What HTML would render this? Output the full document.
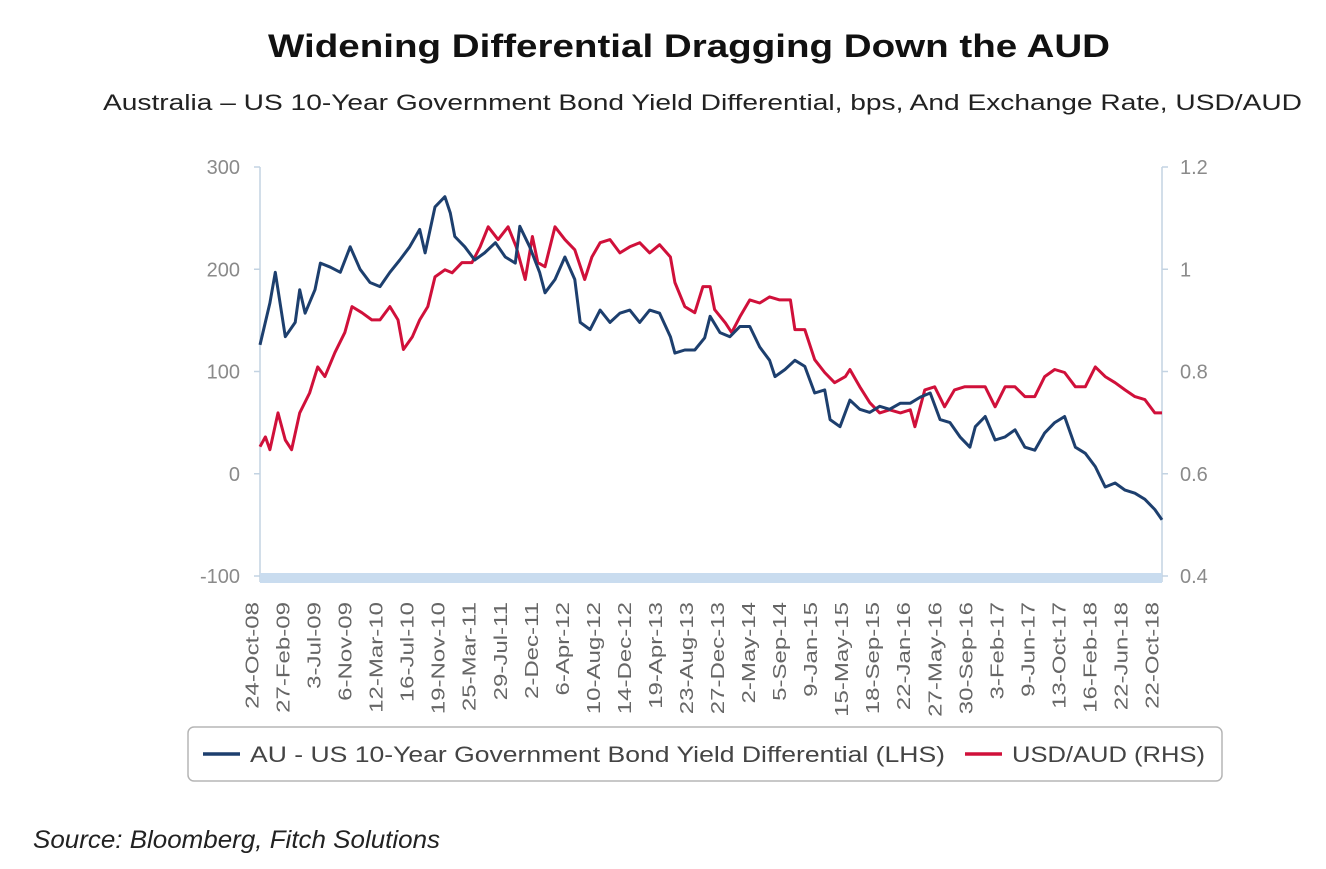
<!DOCTYPE html>
<html><head><meta charset="utf-8"><style>
body{margin:0;background:#fff;width:1326px;height:869px;overflow:hidden;font-family:"Liberation Sans",sans-serif}
</style></head><body>
<svg width="1326" height="869" viewBox="0 0 1326 869" style="position:absolute;left:0;top:0">
<text x="268" y="57" textLength="842" lengthAdjust="spacingAndGlyphs" font-size="32" font-weight="bold" fill="#111">Widening Differential Dragging Down the AUD</text>
<text x="103" y="110" textLength="1199" lengthAdjust="spacingAndGlyphs" font-size="22" fill="#222">Australia – US 10-Year Government Bond Yield Differential, bps, And Exchange Rate, USD/AUD</text>
<g id="axes"></g>
<g id="series"></g>
<rect x="188" y="727" width="1034" height="54" rx="6" fill="#fff" stroke="#b5b5b5" stroke-width="1.5"/>
<line x1="203" y1="754" x2="240" y2="754" stroke="#1d3f6e" stroke-width="3.5"/>
<text x="250" y="762" textLength="695" lengthAdjust="spacingAndGlyphs" font-size="22" fill="#444">AU - US 10-Year Government Bond Yield Differential (LHS)</text>
<line x1="965" y1="754" x2="1002" y2="754" stroke="#d0103a" stroke-width="3.5"/>
<text x="1012" y="762" textLength="193" lengthAdjust="spacingAndGlyphs" font-size="22" fill="#444">USD/AUD (RHS)</text>
<text x="33" y="848" textLength="407" lengthAdjust="spacingAndGlyphs" font-size="25" font-style="italic" fill="#222">Source: Bloomberg, Fitch Solutions</text>
</svg>
<script>
const xTickLabels=["24-Oct-08","27-Feb-09","3-Jul-09","6-Nov-09","12-Mar-10","16-Jul-10","19-Nov-10","25-Mar-11","29-Jul-11","2-Dec-11","6-Apr-12","10-Aug-12","14-Dec-12","19-Apr-13","23-Aug-13","27-Dec-13","2-May-14","5-Sep-14","9-Jan-15","15-May-15","18-Sep-15","22-Jan-16","27-May-16","30-Sep-16","3-Feb-17","9-Jun-17","13-Oct-17","16-Feb-18","22-Jun-18","22-Oct-18"];
const leftTicks=[300,200,100,0,-100];
const rightTicks=["1.2","1","0.8","0.6","0.4"];
const diffDates=[2008.81,2008.92,2008.98,2009.09,2009.20,2009.25,2009.31,2009.42,2009.48,2009.59,2009.70,2009.81,2009.92,2010.03,2010.14,2010.25,2010.36,2010.47,2010.58,2010.64,2010.75,2010.86,2010.92,2010.97,2011.08,2011.19,2011.30,2011.42,2011.53,2011.64,2011.69,2011.80,2011.91,2011.97,2012.08,2012.19,2012.30,2012.36,2012.47,2012.58,2012.69,2012.80,2012.91,2013.02,2013.13,2013.24,2013.36,2013.41,2013.52,2013.63,2013.74,2013.80,2013.91,2014.02,2014.13,2014.24,2014.35,2014.46,2014.52,2014.63,2014.74,2014.85,2014.96,2015.07,2015.13,2015.24,2015.35,2015.46,2015.57,2015.68,2015.79,2015.91,2016.02,2016.13,2016.24,2016.35,2016.46,2016.57,2016.68,2016.74,2016.85,2016.96,2017.07,2017.18,2017.29,2017.40,2017.51,2017.62,2017.73,2017.85,2017.96,2018.07,2018.18,2018.29,2018.40,2018.51,2018.62,2018.73,2018.81];
const diffValues=[126,167,197,134,148,180,157,180,206,202,197,222,200,187,183,197,209,222,239,216,261,271,255,232,222,209,216,226,212,206,242,222,197,177,190,212,190,148,141,160,148,157,160,148,160,157,134,118,121,121,133,154,138,134,144,144,124,111,95,102,111,105,79,82,53,46,72,63,60,66,63,69,69,75,79,53,50,36,26,46,56,33,36,43,26,23,40,50,56,26,20,7,-13,-9,-16,-19,-25,-35,-45];
const fxDates=[2008.81,2008.87,2008.92,2009.01,2009.09,2009.16,2009.25,2009.36,2009.45,2009.53,2009.64,2009.75,2009.83,2009.94,2010.05,2010.14,2010.25,2010.34,2010.40,2010.50,2010.58,2010.67,2010.75,2010.86,2010.94,2011.05,2011.16,2011.25,2011.34,2011.45,2011.56,2011.65,2011.75,2011.83,2011.89,2011.97,2012.08,2012.19,2012.30,2012.41,2012.49,2012.58,2012.69,2012.80,2012.91,2013.02,2013.13,2013.24,2013.36,2013.41,2013.52,2013.63,2013.72,2013.80,2013.85,2013.97,2014.04,2014.13,2014.24,2014.35,2014.46,2014.57,2014.69,2014.74,2014.85,2014.96,2015.07,2015.18,2015.30,2015.35,2015.46,2015.57,2015.68,2015.79,2015.91,2016.02,2016.07,2016.18,2016.29,2016.40,2016.51,2016.62,2016.74,2016.85,2016.96,2017.07,2017.18,2017.29,2017.40,2017.51,2017.62,2017.73,2017.85,2017.96,2018.07,2018.18,2018.29,2018.40,2018.51,2018.62,2018.73,2018.81];
const fxValues=[0.653,0.672,0.647,0.719,0.666,0.647,0.719,0.758,0.809,0.790,0.837,0.876,0.927,0.915,0.901,0.901,0.927,0.901,0.843,0.868,0.901,0.927,0.985,0.999,0.993,1.013,1.013,1.044,1.083,1.058,1.083,1.044,0.980,1.064,1.013,1.005,1.083,1.058,1.038,0.980,1.024,1.052,1.058,1.032,1.044,1.052,1.032,1.048,1.024,0.974,0.927,0.915,0.966,0.966,0.921,0.895,0.876,0.907,0.940,0.934,0.946,0.940,0.940,0.882,0.882,0.823,0.798,0.778,0.790,0.804,0.770,0.739,0.719,0.725,0.719,0.725,0.692,0.764,0.770,0.731,0.764,0.770,0.770,0.770,0.731,0.770,0.770,0.751,0.751,0.790,0.804,0.798,0.770,0.770,0.809,0.790,0.778,0.764,0.751,0.745,0.719,0.719];

const NS="http://www.w3.org/2000/svg";
const X0=260,X1=1162,Y0=167,Y1=576,T0=2008.81,T1=2018.81;
function xScale(t){return X0+(t-T0)/(T1-T0)*(X1-X0);}
function yLeft(v){return Y1-(v+100)/400*(Y1-Y0);}
function yRight(v){return Y1-(v-0.4)/0.8*(Y1-Y0);}
function mk(tag,attrs,parent){const e=document.createElementNS(NS,tag);for(const k in attrs)e.setAttribute(k,attrs[k]);parent.appendChild(e);return e;}
const axes=document.getElementById('axes'),series=document.getElementById('series');
let el;
el=mk('line',{x1:X0,y1:Y0,x2:X0,y2:Y1+6,stroke:'#c3d3e2','stroke-width':1.5},axes);


el=mk('line',{x1:X1,y1:Y0,x2:X1,y2:Y1+6,stroke:'#c3d3e2','stroke-width':1.5},axes);


el=mk('rect',{x:X0,y:Y1-3,width:X1-X0,height:10,fill:'#c9dcef'},axes);


leftTicks.forEach(v=>{const y=yLeft(v);
 el=mk('line',{x1:X0-6,y1:y,x2:X0,y2:y,stroke:'#c3d3e2','stroke-width':1.5},axes);
 
 
 el=mk('text',{x:X0-20,y:y+7,'text-anchor':'end','font-size':20,fill:'#8a8a8a'},axes);el.textContent=String(v);
 
 
});
rightTicks.forEach(s=>{const y=yRight(parseFloat(s));
 el=mk('line',{x1:X1,y1:y,x2:X1+6,y2:y,stroke:'#c3d3e2','stroke-width':1.5},axes);
 
 
 el=mk('text',{x:X1+18,y:y+7,'font-size':20,fill:'#8a8a8a'},axes);el.textContent=s;
 
 
});
xTickLabels.forEach((s,i)=>{const x=252+i*(900/29);
 el=mk('text',{x:0,y:0,'text-anchor':'end','font-size':18.5,fill:'#666',transform:`translate(${x+6.5},602) rotate(-90) scale(1.3,1)`},axes);el.textContent=s;
 
 
});
function path(dates,vals,ys){return dates.map((t,i)=>(i?'L':'M')+xScale(t).toFixed(1)+','+ys(vals[i]).toFixed(1)).join('');}
el=mk('path',{d:path(fxDates,fxValues,yRight),fill:'none',stroke:'#d0103a','stroke-width':3,'stroke-linejoin':'round'},series);


el=mk('path',{d:path(diffDates,diffValues,yLeft),fill:'none',stroke:'#1d3f6e','stroke-width':3,'stroke-linejoin':'round'},series);


</script>
</body></html>
